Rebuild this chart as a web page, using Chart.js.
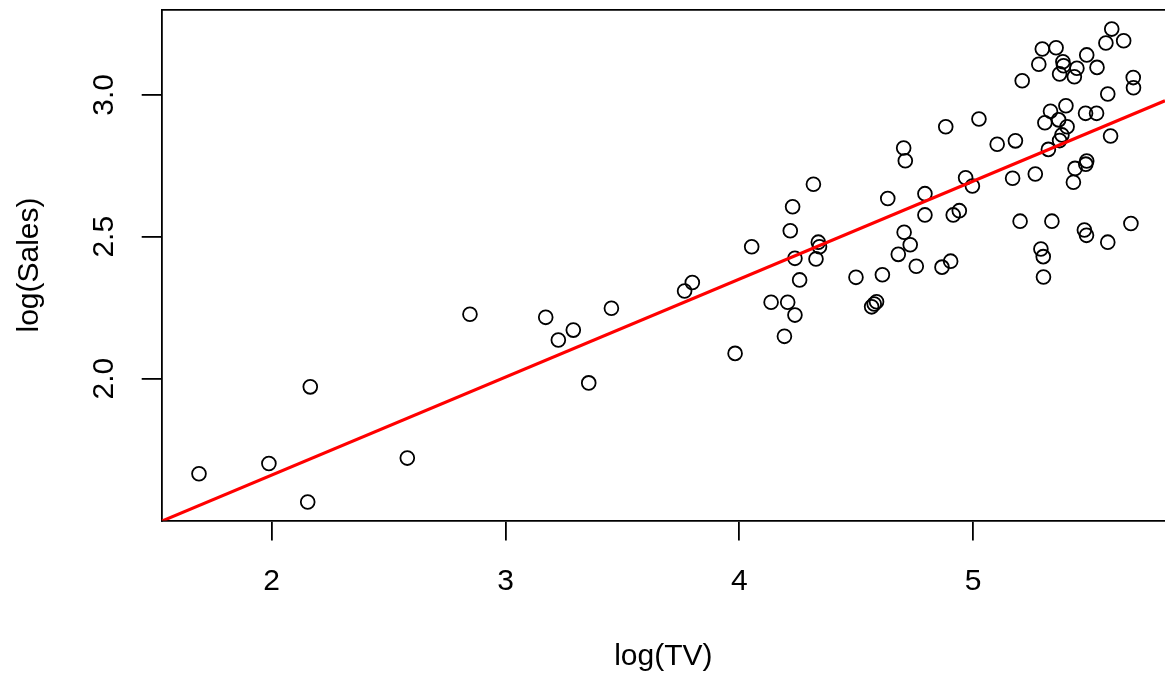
<!DOCTYPE html>
<html>
<head>
<meta charset="utf-8">
<title>log(Sales) vs log(TV)</title>
<script src="https://cdn.jsdelivr.net/npm/chart.js@4.4.1/dist/chart.umd.min.js"></script>
<style>
  html, body { margin: 0; padding: 0; background: #fff; }
  #wrap { width: 1165px; height: 677px; }
</style>
</head>
<body>
<div id="wrap"><canvas id="myChart" width="1165" height="677"></canvas></div>
<script>
// observations: log of TV budget and log of sales
const logTV = [
  1.689, 1.988, 2.165, 2.154, 2.580, 2.848, 3.172, 3.290, 3.226, 3.453,
  3.356, 3.799, 3.766, 3.982, 4.053, 4.218, 4.136, 4.207, 4.193, 4.238,
  4.258, 4.238, 4.317, 4.228, 4.338, 4.343, 4.328, 4.499, 4.612, 4.566,
  4.577, 4.587, 4.635, 4.705, 4.731, 4.680, 4.757, 4.794, 4.794, 4.867,
  4.904, 4.915, 4.941, 4.968, 4.997, 4.710, 4.703, 5.593, 5.568, 5.644,
  5.296, 5.355, 5.486, 5.281, 5.384, 5.387, 5.444, 5.530, 5.370, 5.433,
  5.685, 5.686, 5.210, 5.576, 5.397, 5.331, 5.481, 5.528, 5.307, 5.366,
  5.402, 5.380, 5.370, 5.322, 5.588, 5.025, 4.883, 5.103, 5.181, 5.169,
  5.266, 5.436, 5.482, 5.486, 5.429, 5.201, 5.337, 5.675, 5.476, 5.485,
  5.576, 5.290, 5.300, 5.301
];
const logSales = [
  1.665, 1.701, 1.971, 1.565, 1.720, 2.227, 2.216, 2.171, 2.136, 2.248,
  1.985, 2.339, 2.309, 2.089, 2.465, 2.521, 2.269, 2.269, 2.149, 2.424,
  2.348, 2.224, 2.685, 2.606, 2.481, 2.465, 2.422, 2.357, 2.366, 2.253,
  2.263, 2.271, 2.635, 2.516, 2.472, 2.438, 2.396, 2.652, 2.577, 2.393,
  2.414, 2.577, 2.592, 2.708, 2.679, 2.768, 2.813, 3.232, 3.183, 3.191,
  3.162, 3.166, 3.141, 3.108, 3.117, 3.103, 3.094, 3.097, 3.074, 3.064,
  3.061, 3.025, 3.050, 3.003, 2.962, 2.942, 2.935, 2.935, 2.902, 2.912,
  2.888, 2.859, 2.839, 2.808, 2.855, 2.915, 2.888, 2.826, 2.838, 2.706,
  2.721, 2.741, 2.756, 2.767, 2.692, 2.555, 2.555, 2.547, 2.524, 2.505,
  2.481, 2.457, 2.430, 2.358
];

// least squares fit: intercept, slope
const fitCoef = [0.9697, 0.3453];

const xTicks = [2, 3, 4, 5];
const xTickLabels = ["2", "3", "4", "5"];
const yTicks = [2.0, 2.5, 3.0];
const yTickLabels = ["2.0", "2.5", "3.0"];

const xRange = [1.5295, 5.8208];
const yRange = [1.5, 3.301];

const fontFamily = "'Liberation Sans', Arial, Helvetica, sans-serif";

const points = logTV.map((x, i) => ({ x: x, y: logSales[i] }));
const fitLine = xRange.map((x) => ({ x: x, y: fitCoef[0] + fitCoef[1] * x }));

const setTicks = (values) => (scale) => {
  scale.ticks = values.map((v) => ({ value: v }));
};

// fixed axis sizes, no extra room for overhanging labels
const fixHeight = (h) => (s) => {
  s.height = h;
  s.paddingLeft = 0;
  s.paddingRight = 0;
};
const fixWidth = (w) => (s) => {
  s.width = w;
  s.paddingTop = 0;
  s.paddingBottom = 0;
};

const frameWidth = 1.8;

Chart.defaults.color = "#000";
Chart.defaults.font.family = fontFamily;

const myChart = document.getElementById("myChart");
const newChart = new Chart(myChart, {
  type: "scatter",
  data: {
    datasets: [
      {
        label: "fit",
        type: "line",
        data: fitLine,
        borderColor: "rgb(255, 0, 0)",
        borderWidth: 3.2,
        pointRadius: 0,
        fill: false,
        order: 0,
      },
      {
        label: "obs",
        data: points,
        pointStyle: "circle",
        pointRadius: 6.9,
        pointBorderWidth: 1.8,
        borderColor: "#000",
        backgroundColor: "rgba(0,0,0,0)",
        pointHoverRadius: 6.9,
        order: 1,
      },
    ],
  },
  options: {
    responsive: false,
    devicePixelRatio: 1,
    animation: false,
    layout: { padding: 0, autoPadding: false },
    plugins: {
      legend: { display: false },
      tooltip: { enabled: false },
    },
    scales: {
      x: {
        type: "linear",
        position: "bottom",
        min: xRange[0],
        max: xRange[1],
        afterBuildTicks: setTicks(xTicks),
        afterFit: fixHeight(156.5),
        grid: {
          drawOnChartArea: false,
          drawTicks: true,
          tickLength: 20,
          color: "#000",
          lineWidth: frameWidth,
        },
        border: { display: true, color: "#000", width: frameWidth },
        ticks: {
          font: { size: 30 },
          padding: 23,
          maxRotation: 0,
          callback: (v) => xTickLabels[xTicks.indexOf(v)],
        },
        title: {
          display: true,
          text: "log(TV)",
          font: { size: 30 },
          padding: { top: 0, bottom: 2 },
        },
      },
      xTop: {
        type: "linear",
        position: "top",
        min: 0,
        max: 1,
        afterFit: fixHeight(9.5),
        grid: { display: false },
        ticks: { display: false },
        border: { display: true, color: "#000", width: frameWidth },
      },
      y: {
        type: "linear",
        position: "left",
        min: yRange[0],
        max: yRange[1],
        afterBuildTicks: setTicks(yTicks),
        afterFit: fixWidth(161.7),
        grid: {
          drawOnChartArea: false,
          drawTicks: true,
          tickLength: 20,
          color: "#000",
          lineWidth: frameWidth,
        },
        border: { display: true, color: "#000", width: frameWidth },
        ticks: {
          font: { size: 30 },
          padding: 16,
          minRotation: 90,
          maxRotation: 90,
          crossAlign: "center",
          callback: (v) => yTickLabels[yTicks.indexOf(v)],
        },
        title: {
          display: true,
          text: "log(Sales)",
          font: { size: 30 },
          padding: { top: 12, bottom: 0 },
        },
      },
    },
  },
});
</script>
</body>
</html>
